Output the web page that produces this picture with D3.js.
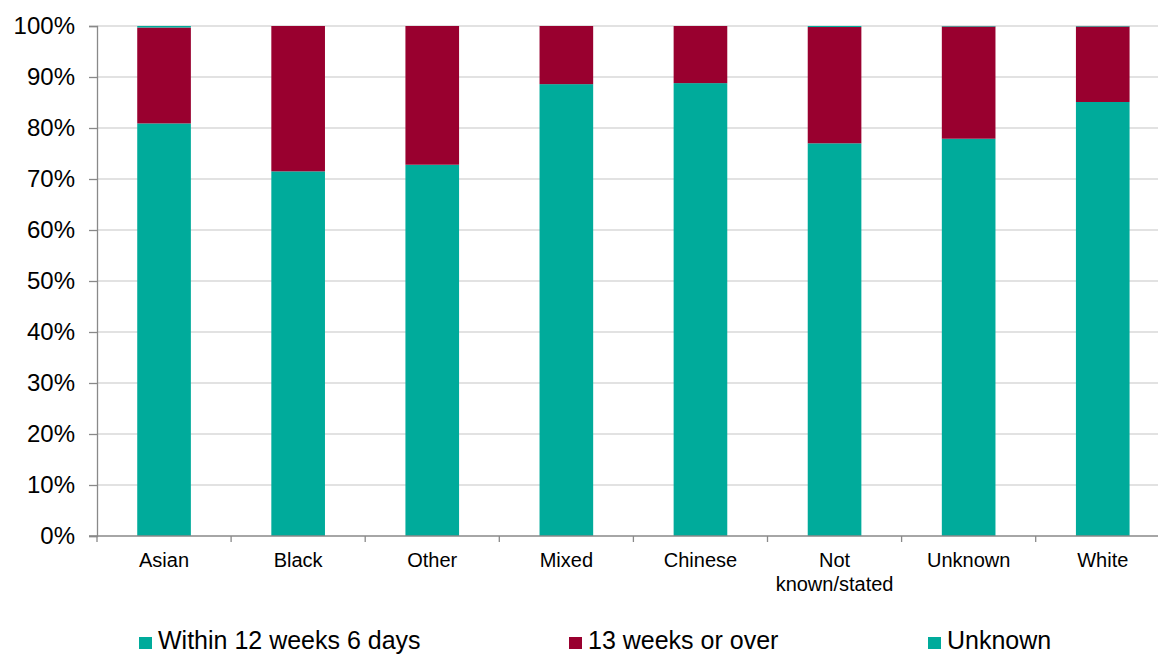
<!DOCTYPE html>
<html>
<head>
<meta charset="utf-8">
<script src="https://cdn.jsdelivr.net/npm/d3@7"></script>
<style>
  html, body { margin: 0; padding: 0; background: #fff; }
  svg { display: block; font-family: "Liberation Sans", Arial, sans-serif; }
</style>
</head>
<body>
<svg id="chart" width="1158" height="655"></svg>
<script>
// Ethnic group categories along the x axis
const categories = ["Asian", "Black", "Other", "Mixed", "Chinese", "Not known/stated", "Unknown", "White"];
// Share of each group by gestation (percent)
const within12w6d = [80.9, 71.5, 72.8, 88.6, 88.8, 77.0, 77.9, 85.1];
const unknownGest = [0.3, 0.0, 0.0, 0.0, 0.0, 0.2, 0.1, 0.1];
const over13w = within12w6d.map((v, i) => +(100 - v - unknownGest[i]).toFixed(1));
const seriesNames = ["Within 12 weeks 6 days", "13 weeks or over", "Unknown"];
const yTicks = [0, 10, 20, 30, 40, 50, 60, 70, 80, 90, 100];

const colors = { "Within 12 weeks 6 days": "#00ab9b", "13 weeks or over": "#99002f", "Unknown": "#00ab9b" };

const rows = categories.map((c, i) => ({
  cat: c,
  "Within 12 weeks 6 days": within12w6d[i],
  "13 weeks or over": over13w[i],
  "Unknown": unknownGest[i]
}));

const svg = d3.select("#chart");
const plotLeft = 97, plotTop = 26, plotBottom = 536;
const step = 134.1;

const x = d3.scaleBand().domain(categories)
  .range([plotLeft, plotLeft + step * categories.length])
  .paddingInner(0.6).paddingOuter(0.3);
const y = d3.scaleLinear().domain([0, 100]).range([plotBottom, plotTop]);

// Horizontal gridlines
svg.append("g").selectAll("line").data(yTicks.filter(d => d > 0)).join("line")
  .attr("x1", plotLeft).attr("x2", 1158)
  .attr("y1", d => y(d)).attr("y2", d => y(d))
  .attr("stroke", "#d9d9d9").attr("stroke-width", 1.3);

// Stacked bars
const stack = d3.stack().keys(seriesNames);
const layers = stack(rows);
svg.append("g").selectAll("g").data(layers).join("g")
  .attr("fill", d => colors[d.key])
  .selectAll("rect").data(d => d).join("rect")
  .attr("x", d => x(d.data.cat))
  .attr("width", x.bandwidth())
  .attr("y", d => y(d[1]))
  .attr("height", d => Math.max(0, y(d[0]) - y(d[1])));

// Y axis
const yAxis = d3.axisLeft(y).tickValues(yTicks).tickFormat(d => d + "%").tickSize(8).tickPadding(14);
const gy = svg.append("g").attr("transform", `translate(${plotLeft},0)`).call(yAxis);
gy.select(".domain").attr("stroke", "#898989").attr("stroke-width", 1.3);
gy.selectAll(".tick line").attr("stroke", "#898989").attr("stroke-width", 1.3);
gy.selectAll(".tick text").attr("font-size", 24).attr("fill", "#000")
  .attr("font-family", "Liberation Sans, Arial, sans-serif");

// X axis: baseline and boundary ticks between categories
const gx = svg.append("g");
gx.append("line").attr("x1", plotLeft - 8).attr("x2", 1158).attr("y1", plotBottom).attr("y2", plotBottom)
  .attr("stroke", "#898989").attr("stroke-width", 1.3);
const bounds = d3.range(categories.length + 1).map(i => plotLeft + i * step);
gx.selectAll("line.b").data(bounds).join("line").attr("class", "b")
  .attr("x1", d => d).attr("x2", d => d).attr("y1", plotBottom).attr("y2", plotBottom + 6)
  .attr("stroke", "#898989").attr("stroke-width", 1.3);

const labelLines = { "Not known/stated": ["Not", "known/stated"] };
gx.selectAll("text").data(categories).join("text")
  .attr("text-anchor", "middle")
  .attr("font-size", 20)
  .attr("fill", "#000")
  .attr("transform", d => `translate(${x(d) + x.bandwidth() / 2},567)`)
  .each(function(d) {
    const lines = labelLines[d] || [d];
    d3.select(this).selectAll("tspan").data(lines).join("tspan")
      .attr("x", 0).attr("dy", (l, i) => i === 0 ? 0 : 24).text(l => l);
  });

// Legend
const legendPos = [
  { name: "Within 12 weeks 6 days", x: 139 },
  { name: "13 weeks or over", x: 569 },
  { name: "Unknown", x: 928 }
];
const lg = svg.append("g").selectAll("g").data(legendPos).join("g")
  .attr("transform", d => `translate(${d.x},0)`);
lg.append("rect").attr("x", 0).attr("y", 637).attr("width", 13).attr("height", 12)
  .attr("fill", d => colors[d.name]);
lg.append("text").attr("x", 19).attr("y", 649).attr("font-size", 25).attr("fill", "#000")
  .text(d => d.name);
</script>
</body>
</html>
